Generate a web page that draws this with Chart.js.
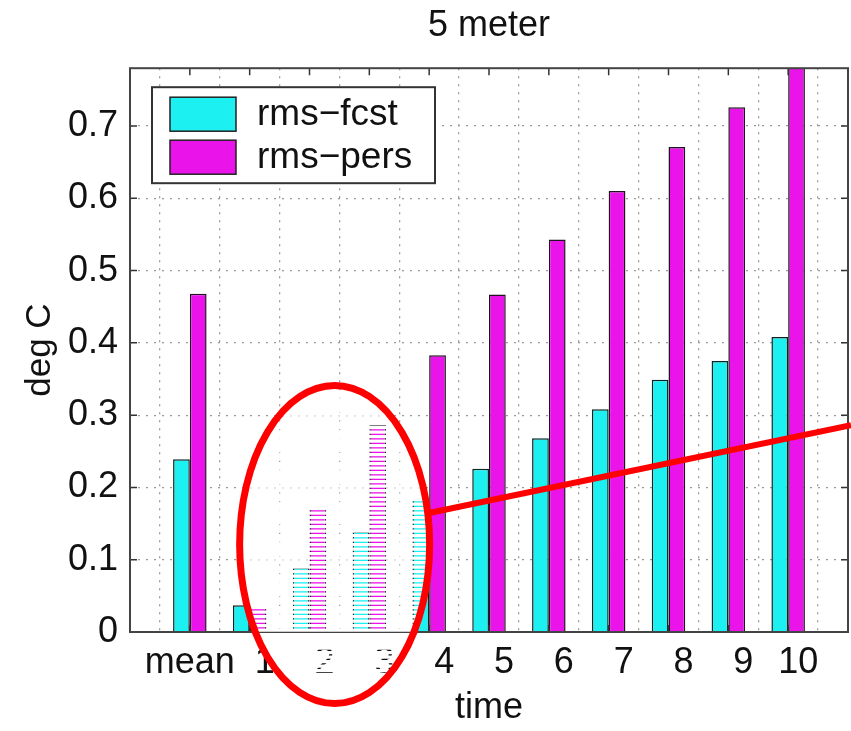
<!DOCTYPE html>
<html>
<head>
<meta charset="utf-8">
<script src="https://cdn.jsdelivr.net/npm/chart.js@4.4.1/dist/chart.umd.min.js"></script>
<style>
  html, body { margin: 0; padding: 0; background: #fff; }
  #wrap { width: 851px; height: 731px; }
</style>
</head>
<body>
<div id="wrap"><canvas id="bars"></canvas></div>
<script>
// data
const categories = ["mean", "1", "2", "3", "4", "5", "6", "7", "8", "9", "10"];
const rmsFcst = [0.239, 0.037, 0.089, 0.139, 0.185, 0.226, 0.268, 0.308, 0.349, 0.375, 0.408];
const rmsPers = [0.468, 0.034, 0.171, 0.286, 0.383, 0.467, 0.543, 0.610, 0.671, 0.726, 0.79];
const yTicks = [0, 0.1, 0.2, 0.3, 0.4, 0.5, 0.6, 0.7];

const FONT = "'Liberation Sans', Arial, sans-serif";

// matlab puts the groups at 1..11 with xlim [0 12] -> empty slot at each end
const labels = ["", ...categories, ""];
const pad = (arr) => [null, ...arr, null];

// legend, box, inner ticks and the red marks drawn on top
const overlay = {
  id: "overlay",
  afterDraw(chart) {
    const ctx = chart.ctx;
    const a = chart.chartArea;
    const xs = chart.scales.x;
    const ys = chart.scales.y;
    ctx.save();

    // inner tick marks
    ctx.strokeStyle = "#333";
    ctx.lineWidth = 1.5;
    ctx.beginPath();
    yTicks.forEach((v) => {
      const y = ys.getPixelForValue(v);
      ctx.moveTo(a.left, y); ctx.lineTo(a.left + 7, y);
      ctx.moveTo(a.right, y); ctx.lineTo(a.right - 7, y);
    });
    for (let i = 1; i <= categories.length; i++) {
      const x = xs.getPixelForValue(i);
      ctx.moveTo(x, a.bottom); ctx.lineTo(x, a.bottom - 7);
      ctx.moveTo(x, a.top); ctx.lineTo(x, a.top + 7);
    }
    ctx.stroke();

    // axes box
    ctx.strokeStyle = "#444";
    ctx.lineWidth = 2;
    ctx.strokeRect(a.left, a.top, a.right - a.left, a.bottom - a.top);

    // legend
    const lx = a.left + 22, ly = a.top + 19;
    ctx.fillStyle = "#fff";
    ctx.fillRect(lx, ly, 283, 96);
    ctx.strokeStyle = "#333";
    ctx.lineWidth = 2;
    ctx.strokeRect(lx, ly, 283, 96);
    ctx.font = "37px " + FONT;
    ctx.textBaseline = "middle";
    chart.data.datasets.forEach((ds, i) => {
      const sy = ly + 10 + i * 43;
      ctx.fillStyle = ds.backgroundColor;
      ctx.fillRect(lx + 18, sy, 66, 34);
      ctx.strokeStyle = "#222";
      ctx.lineWidth = 1.5;
      ctx.strokeRect(lx + 18, sy, 66, 34);
      ctx.fillStyle = "#111";
      ctx.fillText(ds.label, lx + 105, sy + 18);
    });

    // striped patch inside the red ellipse
    const cx = xs.getPixelForValue(3.42);
    const cy = ys.getPixelForValue(0.121);
    const rx = 95;
    const ry = ys.getPixelForValue(0) - ys.getPixelForValue(0.22);
    ctx.save();
    ctx.beginPath();
    ctx.ellipse(cx, cy, rx, ry, 0, 0, Math.PI * 2);
    ctx.clip();
    ctx.fillStyle = "#fff";
    for (let y = cy - ry; y < cy + ry; y += 4.5) {
      ctx.fillRect(cx - rx, y, rx * 2, 3.2);
    }
    ctx.restore();

    ctx.strokeStyle = "#ff0000";
    ctx.lineWidth = 7;
    ctx.beginPath();
    ctx.ellipse(cx, cy, rx, ry, 0, 0, Math.PI * 2);
    ctx.stroke();

    ctx.lineWidth = 6;
    ctx.beginPath();
    ctx.moveTo(xs.getPixelForValue(5.02), ys.getPixelForValue(0.165));
    ctx.lineTo(chart.width, ys.getPixelForValue(0.286));
    ctx.stroke();

    ctx.restore();
  },
};

const CHART = document.querySelector("#bars");

let grafico = new Chart(CHART, {
  type: "bar",
  data: {
    labels: labels,
    datasets: [
      {
        label: "rms\u2212fcst",
        data: pad(rmsFcst),
        backgroundColor: "#1cf0f0",
        borderColor: "#112222",
        borderWidth: 1.5,
      },
      {
        label: "rms\u2212pers",
        data: pad(rmsPers),
        backgroundColor: "#ea14ea",
        borderColor: "#221122",
        borderWidth: 1.5,
      },
    ],
  },
  options: {
    animation: false,
    responsive: true,
    maintainAspectRatio: false,
    layout: { padding: { left: 0, right: 3, top: 0, bottom: 0 } },
    datasets: {
      bar: { categoryPercentage: 0.56, barPercentage: 1 },
    },
    plugins: {
      legend: { display: false },
      tooltip: { enabled: false },
      title: {
        display: true,
        fullSize: false,
        text: "5 meter",
        color: "#111",
        font: { family: FONT, size: 36, weight: "normal" },
        padding: { top: 4, bottom: 21 },
      },
    },
    scales: {
      x: {
        offset: false,
        grid: { color: "#9a9a9a", lineWidth: 1.3, drawTicks: false },
        border: { display: false, dash: [2, 6] },
        ticks: {
          color: "#111",
          padding: 9,
          maxRotation: 0,
          autoSkip: false,
          font: { family: FONT, size: 36 },
          // the number labels sit a bit right of their bars in the original
          callback: function (v) {
            const lab = this.getLabelForValue(v);
            if (lab.length === 1) return "   " + lab;
            if (lab.length === 2) return "  " + lab;
            return lab;
          },
        },
        title: {
          display: true,
          text: "time",
          color: "#111",
          font: { family: FONT, size: 36 },
          padding: { top: 0, bottom: 1 },
        },
        afterFit(scale) {
          scale.height = 99;
          scale.paddingLeft = 0;
          scale.paddingRight = 0;
        },
      },
      y: {
        min: 0,
        max: 0.78,
        grid: { color: "#9a9a9a", lineWidth: 1.3, drawTicks: false },
        border: { display: false, dash: [2, 6] },
        afterBuildTicks(scale) {
          scale.ticks = yTicks.map((v) => ({ value: v }));
        },
        ticks: {
          color: "#111",
          padding: 12,
          font: { family: FONT, size: 36 },
          callback: (v) => (v === 0 ? "0" : v.toFixed(1)),
        },
        title: {
          display: true,
          text: "deg C",
          color: "#111",
          font: { family: FONT, size: 35 },
          padding: { top: 19, bottom: 0 },
        },
        afterFit(scale) {
          scale.width = 130;
          scale.paddingTop = 0;
          scale.paddingBottom = 0;
        },
      },
    },
  },
  plugins: [overlay],
});
</script>
</body>
</html>
